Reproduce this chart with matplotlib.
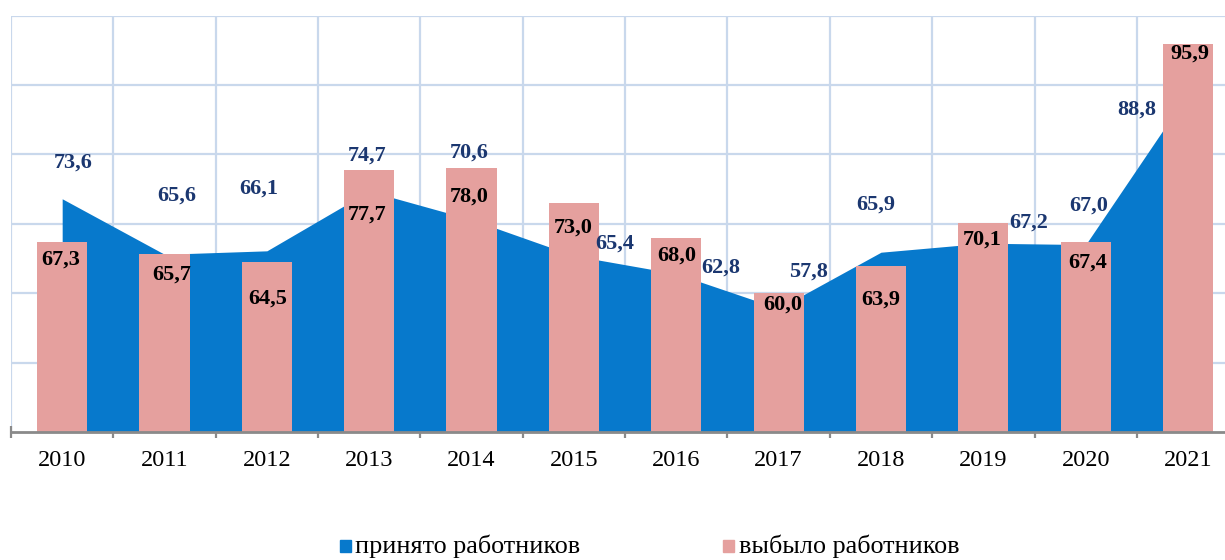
import matplotlib
matplotlib.use("Agg")
import matplotlib.pyplot as plt
from matplotlib.patches import Rectangle

years = ["2010", "2011", "2012", "2013", "2014", "2015", "2016", "2017", "2018", "2019", "2020", "2021"]
hired = [73.6, 65.6, 66.1, 74.7, 70.6, 65.4, 62.8, 57.8, 65.9, 67.2, 67.0, 88.8]
left_ = [67.3, 65.7, 64.5, 77.7, 78.0, 73.0, 68.0, 60.0, 63.9, 70.1, 67.4, 95.9]
series_names = ["принято работников", "выбыло работников"]

# label offsets in pixels (dx, dy), dy positive = up
hired_off = [(11, 36), (12, 59), (-8, 62), (-2, 36), (-2, 67), (41, 12),
             (44, 6), (30, 37), (-5, 48), (45, 21), (3, 39), (-51, -16)]
left_off = [(-1, -17), (7, -21), (1, -37), (-2, -44), (-2, -28), (-1, -25),
            (0, -18), (4, -11), (0, -33), (-1, -17), (2, -21), (2, -10)]

BLUE = "#0779CC"
PINK = "#E5A09E"
NAVY = "#1B3770"
GRID = "#C9D8EC"
SERIF = "Liberation Serif"

W, H = 1225, 560
fig = plt.figure(figsize=(W / 100, H / 100), dpi=100)
ax = fig.add_axes([11 / W, 1 - 432 / H, 12 * 102.35 / W, (432 - 15.5) / H])

x = list(range(len(years)))
ax.fill_between(x, 40, hired, color=BLUE, linewidth=0, zorder=2)
ax.bar(x, left_, width=0.49, bottom=0, color=PINK, zorder=3)

ax.set_xlim(-0.5, len(years) - 0.5)
ax.set_ylim(40, 100)

# grid
for yv in range(50, 101, 10):
    ax.axhline(yv, color=GRID, lw=1.6, zorder=1)
for i in range(len(years) + 1):
    ax.axvline(i - 0.5, color=GRID, lw=1.6, zorder=1)

for s in ["top", "right", "left"]:
    ax.spines[s].set_visible(False)
ax.spines["bottom"].set_color("#8A8A8A")
ax.spines["bottom"].set_linewidth(2)
ax.spines["bottom"].set_zorder(5)
ax.set_yticks([])
ax.set_xticks([i - 0.5 for i in range(len(years) + 1)])
ax.set_xticklabels([])
ax.tick_params(axis="x", direction="inout", length=9, width=1.6, color="#8A8A8A")

for i, y in enumerate(years):
    ax.annotate(y, xy=(i, 40), xytext=(0, -29), textcoords="offset pixels",
                ha="center", va="center", fontsize=17.5, family=SERIF, color="black")

for i, v in enumerate(hired):
    dx, dy = hired_off[i]
    ax.annotate(f"{v:.1f}".replace(".", ","), xy=(i, v), xytext=(dx, dy),
                textcoords="offset pixels", ha="center", va="center",
                fontsize=16, fontweight="bold", family=SERIF, color=NAVY, zorder=6)

for i, v in enumerate(left_):
    dx, dy = left_off[i]
    ax.annotate(f"{v:.1f}".replace(".", ","), xy=(i, v), xytext=(dx, dy),
                textcoords="offset pixels", ha="center", va="center",
                fontsize=16, fontweight="bold", family=SERIF, color="black", zorder=6)

# legend at bottom
fig.patches.append(Rectangle((340 / W, 1 - 552 / H), 11 / W, 12 / H,
                             transform=fig.transFigure, color=BLUE, figure=fig))
fig.text(355 / W, 1 - 553 / H, series_names[0], fontsize=18.8, family=SERIF,
         ha="left", va="baseline")
fig.patches.append(Rectangle((723 / W, 1 - 552 / H), 11 / W, 12 / H,
                             transform=fig.transFigure, color=PINK, figure=fig))
fig.text(739 / W, 1 - 553 / H, series_names[1], fontsize=18.8, family=SERIF,
         ha="left", va="baseline")

fig.savefig("out.png", dpi=100)
